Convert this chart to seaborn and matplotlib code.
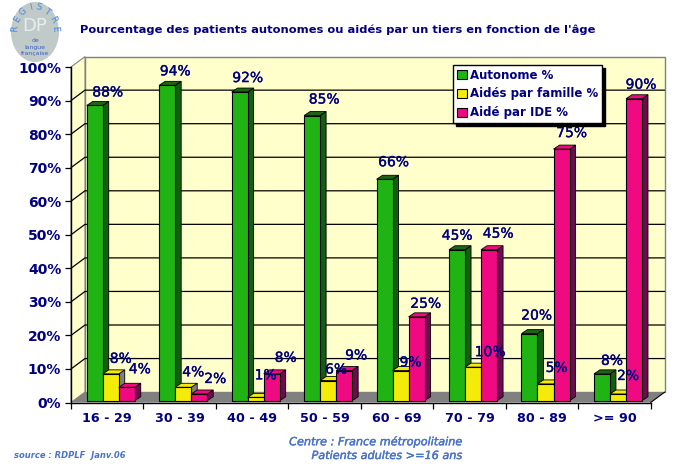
import numpy as np
import pandas as pd
import matplotlib
matplotlib.use("Agg")
import matplotlib.pyplot as plt
import matplotlib.patheffects as pe
from matplotlib.patches import Ellipse, Polygon
import seaborn as sns

# =============================================================================
# DONNEES
# =============================================================================
ages = ["16 - 29", "30 - 39", "40 - 49", "50 - 59", "60 - 69", "70 - 79", "80 - 89", ">= 90"]
autonome = [88, 94, 92, 85, 66, 45, 20, 8]
famille = [8, 4, 1, 6, 9, 10, 5, 2]
ide = [4, 2, 8, 9, 25, 45, 75, 90]

series = ["Autonome %", "Aidés par famille %", "Aidé par IDE %"]
couleurs = ["#1FB414", "#F5EB0A", "#F00A82"]
cotes = ["#145F0F", "#808080", "#6E0A50"]
dessus = ["#1E6414", "#F5EB0A", "#F00A82"]

# decalage des etiquettes par rapport au haut de chaque barre (pixels)
label_dx = [[13, 8, 8, 12, 9, 0, 7, 10], [10, 10, 10, 8, 10, 17, 11, 10], [13, 16, 14, 12, 9, 9, 10, 7]]
label_dy = [[13, 14, 14, 16, 17, 14, 18, 13], [15, 15, 22, 11, 8, 15, 16, 18], [18, 15, 16, 15, 13, 16, 16, 14]]

NAVY = "#000080"
BLEU = "#4A74C8"
W, H = 688, 469
X0, X1, Y0, Y1 = 71, 650.7, 402.5, 67
PROF_X, PROF_Y = 14, 10.4

# =============================================================================
# FIGURE
# =============================================================================
sns.set_theme(style="white")
plt.rcParams["font.family"] = ["DejaVu Sans"]

fig = plt.figure(figsize=(W / 100, H / 100), dpi=100, facecolor="white")
ax = fig.add_axes([X0 / W, 1 - Y0 / H, (X1 - X0) / W, (Y0 - Y1) / H])
ax.patch.set_alpha(0)

df = pd.DataFrame({"age": ages, series[0]: autonome, series[1]: famille, series[2]: ide})
long = df.melt(id_vars="age", var_name="serie", value_name="pct")

sns.barplot(
    data=long, x="age", y="pct", hue="serie", order=ages, hue_order=series,
    palette=couleurs, width=0.663, gap=0, saturation=1, edgecolor="black",
    linewidth=0.8, ax=ax, zorder=3,
)
ax.set_xlim(-0.5, 7.5)
ax.set_ylim(0, 100)

ux = 1 / ((X1 - X0) / 8)
uy = 100 / (Y0 - Y1)
px, py = PROF_X * ux, PROF_Y * uy

# -----------------------------------------------------------------------------
# Parois
# -----------------------------------------------------------------------------
xa, xb = -0.5, 7.5
ax.add_patch(Polygon([(xa + px, py), (xb + px, py), (xb + px, 100 + py), (xa + px, 100 + py)],
                     fc="#FFFFCC", ec="#808080", lw=1, clip_on=False, zorder=0))
ax.add_patch(Polygon([(xa, 0), (xa + px, py), (xa + px, 100 + py), (xa, 100)],
                     fc="#FFFFCC", ec="#808080", lw=0.8, clip_on=False, zorder=0))
ax.add_patch(Polygon([(xa, 0), (xb, 0), (xb + px, py), (xa + px, py)],
                     fc="#808080", ec="none", clip_on=False, zorder=1))
ax.plot([xb, xb + px], [0, py], color="black", lw=0.8, clip_on=False, zorder=2)

for v in range(10, 100, 10):
    ax.plot([xa, xa + px, xb + px], [v, v + py, v + py], color="black", lw=0.9,
            clip_on=False, zorder=1)

# -----------------------------------------------------------------------------
# Barres en relief
# -----------------------------------------------------------------------------
bx, by = 6 * ux, 4 * uy
for s, cont in enumerate(ax.containers):
    for i, bar in enumerate(cont):
        bar.set_x(bar.get_x() + 3.5 * ux)
        bar.set_y(1.8 * uy)
        g, d = bar.get_x(), bar.get_x() + bar.get_width()
        b, h = bar.get_y(), bar.get_y() + bar.get_height()
        ordre = 3 + s * 0.1 + 0.05
        ax.add_patch(Polygon([(d, b), (d + bx, b + by), (d + bx, h + by), (d, h)],
                             fc=cotes[s], ec="black", lw=0.6, zorder=ordre, clip_on=False))
        ax.add_patch(Polygon([(g, h), (d, h), (d + bx, h + by), (g + bx, h + by)],
                             fc=dessus[s], ec="black", lw=0.6, zorder=ordre, clip_on=False))
        bar.set_zorder(ordre + 0.01)
        txt = ax.annotate(f"{int(round(bar.get_height()))}%", xy=((g + d) / 2, h),
                          xytext=(label_dx[s][i], label_dy[s][i]), textcoords="offset pixels",
                          ha="center", va="center", color=NAVY, fontsize=10,
                          annotation_clip=False, zorder=6)
        txt.set_path_effects([pe.withStroke(linewidth=0.25, foreground=NAVY)])

# -----------------------------------------------------------------------------
# Axes
# -----------------------------------------------------------------------------
sns.despine(ax=ax, top=True, right=True)
for cote in ["left", "bottom"]:
    ax.spines[cote].set_color("black")
    ax.spines[cote].set_linewidth(1)
    ax.spines[cote].set_zorder(2)

ax.set_xlabel("")
ax.set_ylabel("")
ax.set_yticks(range(0, 101, 10))
ax.set_yticklabels([f"{v}%" for v in range(0, 101, 10)])
ax.set_xticks(np.arange(-0.5, 8, 1), minor=True)
ax.set_xticks(range(len(ages)))
ax.set_xticklabels(ages)
ax.tick_params(axis="x", which="major", length=0, pad=7, labelcolor=NAVY, labelsize=9.2)
ax.tick_params(axis="x", which="minor", length=4, width=0.9, color="black", bottom=True)
ax.tick_params(axis="y", length=4, width=0.9, color="black", left=True, pad=3, labelcolor=NAVY, labelsize=10)
for t in ax.get_xticklabels() + ax.get_yticklabels():
    t.set_fontweight("bold")

# -----------------------------------------------------------------------------
# Legende
# -----------------------------------------------------------------------------
leg = ax.legend(
    loc="upper left", bbox_to_anchor=((453 - X0) / (X1 - X0), (Y0 - 65) / (Y0 - Y1)),
    frameon=True, fancybox=False, shadow={"color": "black", "alpha": 1, "ox": 2.5, "oy": -2.5},
    edgecolor="black", framealpha=1, title=None, prop={"weight": "bold", "size": 8.5},
    handlelength=0.85, handleheight=0.85, handletextpad=0.3, labelspacing=0.5,
    borderpad=0.3, borderaxespad=0, labelcolor=NAVY,
)
leg.set_zorder(7)
leg.get_frame().set_linewidth(1)
for patch in leg.get_patches():
    patch.set_edgecolor("black")

# -----------------------------------------------------------------------------
# Textes et logo
# -----------------------------------------------------------------------------
def texte(x, y, s, **kw):
    fig.text(x / W, 1 - y / H, s, va="center", **kw)


texte(80, 30, "Pourcentage des patients autonomes ou aidés par un tiers en fonction de l'âge",
      color=NAVY, fontsize=8.27, fontweight="bold")
texte(14, 455.5, "source : RDPLF  Janv.06", color=BLEU, fontsize=6, style="italic", fontweight="bold")
texte(462, 442, "Centre : France métropolitaine", color=BLEU, fontsize=8.1, style="italic", ha="right",
      path_effects=[pe.withStroke(linewidth=0.3, foreground=BLEU)])
texte(462, 456, "Patients adultes >=16 ans", color=BLEU, fontsize=8.1, style="italic", ha="right",
      path_effects=[pe.withStroke(linewidth=0.3, foreground=BLEU)])

fond = fig.add_axes([0, 0, 1, 1], zorder=-1)
fond.set_xlim(0, W)
fond.set_ylim(H, 0)
fond.axis("off")
fond.add_patch(Ellipse((35, 32), 48, 60, fc="#C0CAC8", ec="none"))

lettres = "REGISTRE"
angles = np.linspace(-175, -5, len(lettres))
for lettre, a in zip(lettres, angles):
    xl = 35 + 20 * np.cos(np.radians(a))
    yl = 31 + 24 * np.sin(np.radians(a))
    fond.text(xl, yl, lettre, color="#4A86E0", fontsize=6.5, ha="center", va="center",
              rotation=-a - 90)
fond.text(35, 26, "DP", color="#E8ECEC", fontsize=13, ha="center", va="center")
fond.text(35, 41, "de", color="#3A60C0", fontsize=4.4, ha="center", va="center")
fond.text(35, 47, "langue", color="#3A60C0", fontsize=4.4, ha="center", va="center")
fond.text(35, 53, "française", color="#3A60C0", fontsize=4.4, ha="center", va="center")

fig.savefig("out.png", dpi=100, facecolor="white")
